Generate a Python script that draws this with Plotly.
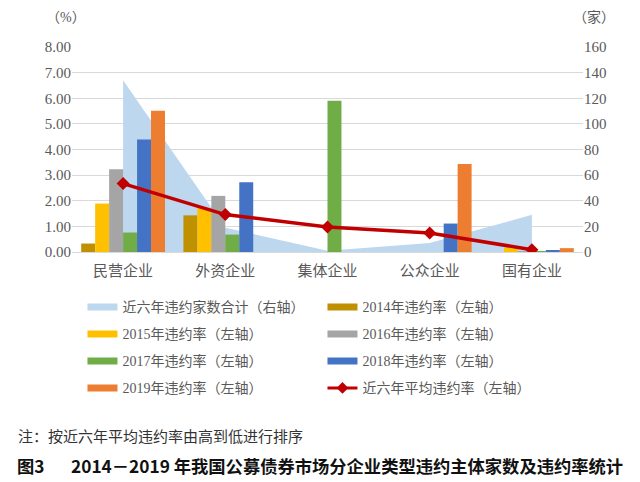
import plotly.graph_objects as go

categories = ["民营企业", "外资企业", "集体企业", "公众企业", "国有企业"]
years = ["2014", "2015", "2016", "2017", "2018", "2019"]
rate_2014 = [0.33, 1.43, 0, 0, 0]
rate_2015 = [1.89, 1.72, 0, 0, 0.17]
rate_2016 = [3.23, 2.19, 0, 0, 0.03]
rate_2017 = [0.76, 0.68, 5.90, 0, 0.02]
rate_2018 = [4.39, 2.72, 0, 1.11, 0.07]
rate_2019 = [5.51, 0, 0, 3.43, 0.15]
default_count_total = [134, 19, 1, 7, 29]
avg_rate = [2.67, 1.46, 0.98, 0.74, 0.09]

series = [rate_2014, rate_2015, rate_2016, rate_2017, rate_2018, rate_2019]
colors = ["#BF9000", "#FFC000", "#A5A5A5", "#70AD47", "#4472C4", "#ED7D31"]

area_name = "近六年违约家数合计（右轴）"
line_name = "近六年平均违约率（左轴）"
bar_names = [f"{y}年违约率（左轴）" for y in years]

FONT_MIX = "Liberation Serif, Noto Sans CJK SC, sans-serif"
GRAY = "#595959"

fig = go.Figure()

# area on primary y (right side, 0-160)
fig.add_trace(go.Scatter(x=categories, y=default_count_total, yaxis="y",
                         mode="none", fill="tozeroy", fillcolor="#BDD7EE",
                         showlegend=False, hoverinfo="skip"))

for vals, col, nm in zip(series, colors, bar_names):
    fig.add_trace(go.Bar(x=categories, y=vals, yaxis="y2", marker_color=col,
                         marker_line_width=0, name=nm, showlegend=False))

fig.add_trace(go.Scatter(x=categories, y=avg_rate, yaxis="y2", mode="lines+markers",
                         line=dict(color="#C00000", width=3.5),
                         marker=dict(symbol="diamond", size=10, color="#C00000"),
                         showlegend=False))

# legend-only entries (no data), arranged in 4 rows of 2
legend_rows = [
    [(area_name, "#BDD7EE", False), (bar_names[0], colors[0], False)],
    [(bar_names[1], colors[1], False), (bar_names[2], colors[2], False)],
    [(bar_names[3], colors[3], False), (bar_names[4], colors[4], False)],
    [(bar_names[5], colors[5], False), (line_name, "#C00000", True)],
]
legend_keys = ["legend", "legend2", "legend3", "legend4"]
for key, row in zip(legend_keys, legend_rows):
    for nm, col, is_line in row:
        if is_line:
            fig.add_trace(go.Scatter(x=[None], y=[None], mode="lines+markers", name=nm,
                                     line=dict(color=col, width=3),
                                     marker=dict(symbol="diamond", size=9, color=col),
                                     legend=key, showlegend=True))
        else:
            fig.add_trace(go.Scatter(x=[None], y=[None], mode="lines", name=nm,
                                     line=dict(color=col, width=7),
                                     legend=key, showlegend=True))

plot_left, plot_right = 71.5, 583.5
plot_top, plot_bottom = 46.7, 251.7
W, H = 640, 482
ph = plot_bottom - plot_top
pw = plot_right - plot_left

row_y = [307, 334, 361, 388]
legend_layout = {}
for key, ry in zip(legend_keys, row_y):
    legend_layout[key] = dict(
        orientation="h", x=(82 - plot_left) / pw, xanchor="left",
        y=(plot_bottom - ry) / ph, yanchor="middle",
        entrywidth=195, entrywidthmode="pixels",
        font=dict(family=FONT_MIX, size=14, color=GRAY),
        bgcolor="rgba(0,0,0,0)", borderwidth=0, itemclick=False,
    )


def px_ann(text, x, y, size, color, family, xanchor="center"):
    return dict(text=text, x=(x - plot_left) / pw, y=(plot_bottom - y) / ph,
                xref="paper", yref="paper", xanchor=xanchor, yanchor="middle",
                showarrow=False, font=dict(family=family, size=size, color=color))


fig.update_layout(
    width=W, height=H,
    margin=dict(l=plot_left, r=W - plot_right, t=plot_top, b=H - plot_bottom),
    paper_bgcolor="white", plot_bgcolor="white",
    barmode="group", bargap=0.18, bargroupgap=0,
    xaxis=dict(type="category", showgrid=False, showline=True, linecolor="#D9D9D9",
               ticks="", automargin=False, ticklabelstandoff=5,
               tickfont=dict(family="Noto Sans CJK SC", size=15, color=GRAY)),
    yaxis=dict(side="right", range=[0, 160], dtick=20, showgrid=True, gridcolor="#D9D9D9",
               zeroline=False, showline=False, ticks="", automargin=False,
               tickfont=dict(family="Liberation Serif", size=15, color=GRAY)),
    yaxis2=dict(side="left", overlaying="y", range=[0, 8], dtick=1, tickformat=".2f",
                showgrid=False, zeroline=False, showline=False, ticks="", automargin=False,
                tickfont=dict(family="Liberation Serif", size=15, color=GRAY)),
    showlegend=True,
    **legend_layout,
    annotations=[
        px_ann("（%）", 65, 17, 14, GRAY, FONT_MIX),
        px_ann("（家）", 595, 17, 14, GRAY, FONT_MIX),
        px_ann("注：按近六年平均违约率由高到低进行排序", 15, 435, 15, "#333333",
               "Noto Sans CJK SC", "left"),
        px_ann("<b>图3</b>", 14, 465, 17.3, "#111111", "Noto Sans CJK SC", "left"),
        px_ann("<b>2014－2019 年我国公募债券市场分企业类型违约主体家数及违约率统计</b>",
               68, 465, 17.3, "#111111", "Noto Sans CJK SC", "left"),
    ],
)

fig.write_html("out.html", config={"displayModeBar": False},
               post_script="document.body.style.margin='0px';")
